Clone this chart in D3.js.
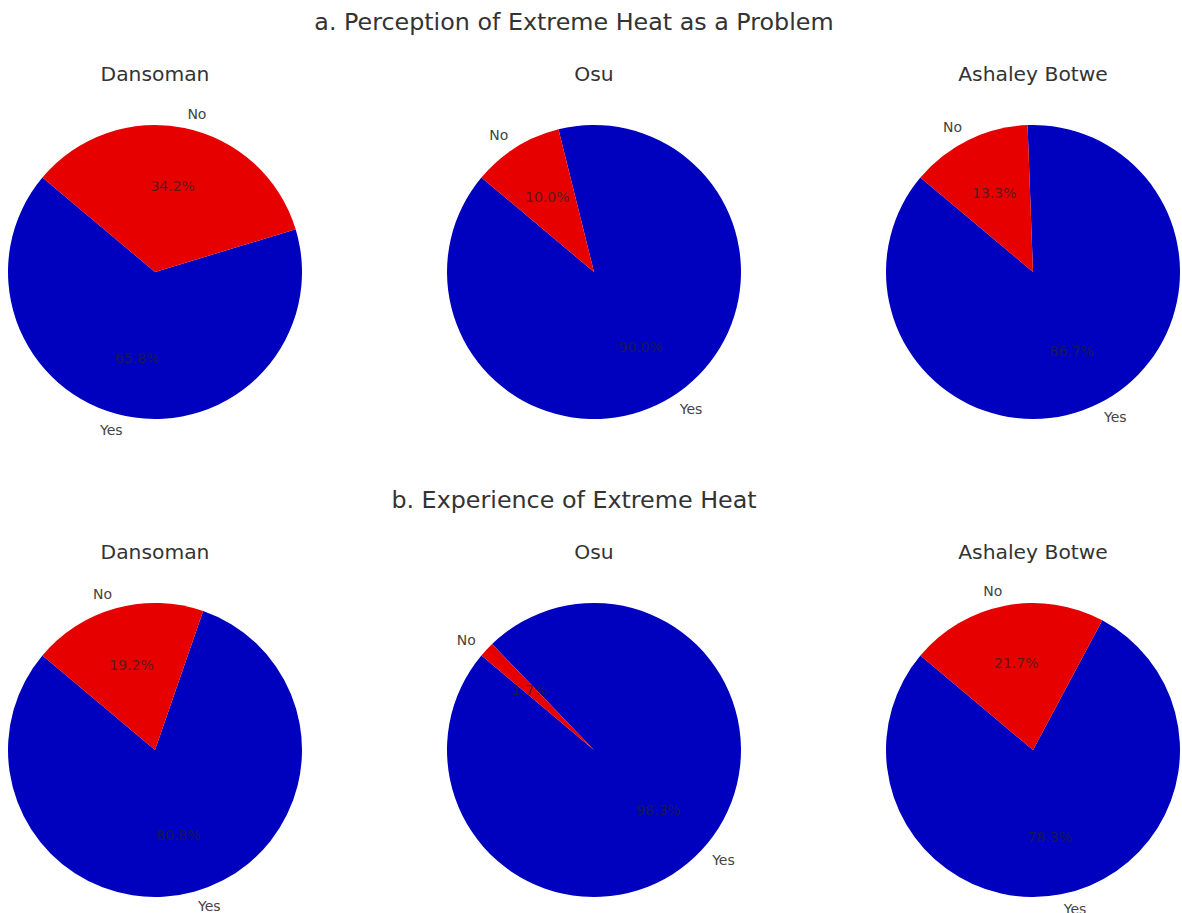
<!DOCTYPE html>
<html>
<head>
<meta charset="utf-8">
<script src="https://cdn.jsdelivr.net/npm/d3@7"></script>
<style>
  html, body { margin: 0; padding: 0; background: #fff; }
  svg { display: block; font-family: "DejaVu Sans", sans-serif; }
</style>
</head>
<body>
<svg id="chart" width="1182" height="913"></svg>
<script>
// Survey responses by neighbourhood
const sections = ["a. Perception of Extreme Heat as a Problem", "b. Experience of Extreme Heat"];
const places = ["Dansoman", "Osu", "Ashaley Botwe"];
const answers = ["Yes", "No"];
const perceptionYes = [65.8, 90.0, 86.7];
const perceptionNo = [34.2, 10.0, 13.3];
const experienceYes = [80.8, 98.3, 78.3];
const experienceNo = [19.2, 1.7, 21.7];

const sectionYes = [perceptionYes, experienceYes];
const sectionNo = [perceptionNo, experienceNo];

const colors = { Yes: "#0000bf", No: "#e60000" };

const W = 1182, H = 913;
const svg = d3.select("#chart");

// layout of the 2 x 3 grid of pies
const colX = d3.scalePoint().domain(places).range([155, 1033]);
const rowY = d3.scalePoint().domain(sections).range([272, 750]);
const radius = 147;

// wedges start at 140° (counter-clockwise from +x), drawn counter-clockwise
const startDeg = 140;
const pie = d3.pie().sort(null).value(d => d.value)
  .startAngle((90 - startDeg) * Math.PI / 180)
  .endAngle((90 - startDeg - 360) * Math.PI / 180);
const arc = d3.arc().innerRadius(0).outerRadius(radius);

sections.forEach((sec, si) => {
  const cy = rowY(sec);
  svg.append("text")
    .attr("x", W / 2 - 17)
    .attr("y", cy - 250)
    .attr("text-anchor", "middle")
    .attr("dominant-baseline", "central")
    .attr("font-size", 23.8)
    .attr("fill", "#333")
    .text(sec);

  places.forEach((place, pi) => {
    const cx = colX(place);
    const data = answers.map(a => ({
      label: a,
      value: a === "Yes" ? sectionYes[si][pi] : sectionNo[si][pi]
    }));
    const g = svg.append("g").attr("transform", `translate(${cx},${cy})`);

    g.append("text")
      .attr("x", 0)
      .attr("y", -198)
      .attr("text-anchor", "middle")
      .attr("dominant-baseline", "central")
      .attr("font-size", 20.3)
      .attr("fill", "#333")
      .text(place);

    const arcs = pie(data);
    g.selectAll("path.wedge").data(arcs).join("path")
      .attr("class", "wedge")
      .attr("d", arc)
      .attr("fill", d => colors[d.data.label]);

    arcs.forEach(d => {
      const mid = (d.startAngle + d.endAngle) / 2;
      const ux = Math.sin(mid), uy = -Math.cos(mid);
      // category label just outside the rim
      g.append("text")
        .attr("x", ux * radius * 1.1)
        .attr("y", uy * radius * 1.1)
        .attr("text-anchor", ux > 0 ? "start" : "end")
        .attr("dominant-baseline", "central")
        .attr("font-size", 14)
        .attr("fill", "#444")
        .text(d.data.label);
      // percentage inside the wedge
      g.append("text")
        .attr("x", ux * radius * 0.6)
        .attr("y", uy * radius * 0.6)
        .attr("text-anchor", "middle")
        .attr("dominant-baseline", "central")
        .attr("font-size", 14)
        .attr("fill", "#222")
        .attr("fill-opacity", 0.7)
        .text(d3.format(".1f")(d.data.value) + "%");
    });
  });
});
</script>
</body>
</html>
